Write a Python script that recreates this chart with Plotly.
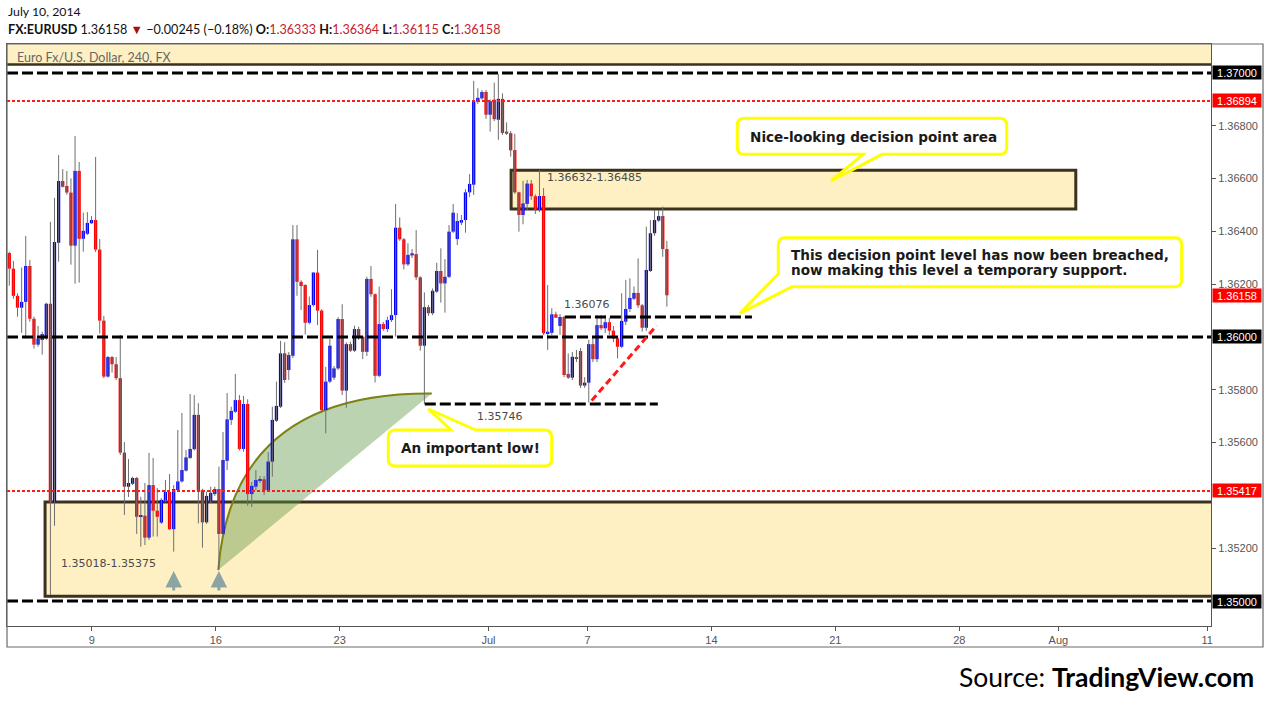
import numpy as np
import plotly.graph_objects as go

# ---------------- data (EURUSD 4H candles) ----------------
OPEN = [
1.36318,1.36259,1.36156,1.36111,1.36133,1.36269,1.36069,1.35971,1.35989,1.35995,
1.36126,1.35372,1.36357,1.36591,1.36572,1.36547,1.36346,1.36629,1.36372,1.36391,
1.36431,1.36443,1.36331,1.36062,1.35850,1.35924,1.35897,1.35844,1.35562,1.35433,
1.35444,1.35466,1.35319,1.35323,1.35240,1.35439,1.35342,1.35297,1.35380,1.35413,
1.35272,1.35420,1.35453,1.35494,1.35542,1.35575,1.35705,1.35420,1.35298,1.35379,
1.35405,1.35424,1.35254,1.35531,1.35686,1.35717,1.35761,1.35576,1.35746,1.35405,
1.35433,1.35456,1.35461,1.35420,1.35528,1.35683,1.35736,1.35938,1.35875,1.35929,
1.36370,1.36209,1.36197,1.36054,1.36121,1.36244,1.36100,1.35723,1.35831,1.35846,
1.35881,1.36068,1.35797,1.35973,1.35948,1.36030,1.36001,1.35944,1.36220,1.36162,
1.35853,1.36049,1.36030,1.36064,1.36083,1.36414,1.36370,1.36275,1.36309,1.36314,
1.36226,1.35967,1.36113,1.36090,1.36172,1.36250,1.36203,1.36228,1.36399,1.36371,
1.36433,1.36443,1.36548,1.36577,1.36891,1.36904,1.36928,1.36842,1.36899,1.36823,
1.36902,1.36778,1.36772,1.36708,1.36548,1.36462,1.36504,1.36581,1.36533,1.36481,
1.36534,1.36014,1.36016,1.36086,1.36042,1.36076,1.35860,1.35846,1.35923,1.35947,
1.35816,1.35827,1.35973,1.35916,1.36045,1.36033,1.36056,1.36024,1.35995,1.35963,
1.36058,1.36106,1.36145,1.36167,1.36120,1.36035,1.36250,1.36393,1.36441,1.36458,
1.36333]
HIGH = [
1.36323,1.36288,1.36166,1.36263,1.36383,1.36292,1.36077,1.36042,1.36020,1.36130,
1.36436,1.36527,1.36689,1.36636,1.36629,1.36601,1.36761,1.36663,1.36471,1.36473,
1.36458,1.36682,1.36371,1.36080,1.35928,1.35928,1.35924,1.36008,1.35602,1.35538,
1.35471,1.35470,1.35395,1.35447,1.35561,1.35542,1.35428,1.35390,1.35458,1.35481,
1.35439,1.35648,1.35712,1.35572,1.35784,1.35780,1.35749,1.35425,1.35414,1.35433,
1.35433,1.35509,1.35640,1.35788,1.35736,1.35860,1.35780,1.35777,1.35764,1.35451,
1.35496,1.35473,1.35473,1.35564,1.35736,1.35831,1.35985,1.35980,1.35943,1.36424,
1.36424,1.36215,1.36200,1.36153,1.36246,1.36330,1.36105,1.35887,1.35992,1.35890,
1.36075,1.36124,1.35980,1.35982,1.36043,1.36039,1.36004,1.36228,1.36269,1.36165,
1.36191,1.36057,1.36077,1.36181,1.36504,1.36453,1.36375,1.36355,1.36333,1.36405,
1.36230,1.36169,1.36121,1.36184,1.36281,1.36336,1.36295,1.36424,1.36504,1.36469,
1.36462,1.36560,1.36617,1.36970,1.36942,1.36935,1.36936,1.36900,1.36963,1.36996,
1.36923,1.36813,1.36780,1.36769,1.36550,1.36592,1.36595,1.36595,1.36540,1.36633,
1.36564,1.36197,1.36109,1.36096,1.36087,1.36080,1.35938,1.35943,1.35951,1.35958,
1.35848,1.35989,1.36004,1.36083,1.36083,1.36083,1.36072,1.36042,1.36004,1.36166,
1.36216,1.36222,1.36191,1.36298,1.36125,1.36418,1.36443,1.36481,1.36481,1.36494,
1.36364]
LOW = [
1.36194,1.36145,1.36077,1.36016,1.35994,1.36058,1.35956,1.35963,1.35933,1.35989,
1.35023,1.35285,1.36285,1.36566,1.36539,1.36274,1.36202,1.36206,1.36323,1.36386,
1.36428,1.36322,1.36013,1.35844,1.35846,1.35865,1.35837,1.35553,1.35326,1.35394,
1.35439,1.35254,1.35206,1.35212,1.35231,1.35244,1.35244,1.35292,1.35375,1.35269,
1.35187,1.35412,1.35448,1.35490,1.35538,1.35570,1.35294,1.35202,1.35292,1.35371,
1.35398,1.35121,1.35250,1.35496,1.35667,1.35712,1.35570,1.35565,1.35361,1.35356,
1.35420,1.35447,1.35402,1.35413,1.35471,1.35678,1.35731,1.35826,1.35837,1.35920,
1.36156,1.36102,1.36010,1.36048,1.36115,1.36045,1.35712,1.35635,1.35826,1.35837,
1.35875,1.35780,1.35732,1.35943,1.35943,1.35989,1.35916,1.35928,1.36152,1.35828,
1.35848,1.36023,1.36019,1.36057,1.36001,1.36364,1.36256,1.36269,1.36299,1.36216,
1.35948,1.35746,1.36080,1.36083,1.36167,1.36130,1.36092,1.36223,1.36394,1.36348,
1.36424,1.36395,1.36530,1.36538,1.36883,1.36898,1.36826,1.36778,1.36818,1.36747,
1.36765,1.36765,1.36683,1.36542,1.36399,1.36427,1.36481,1.36519,1.36466,1.36473,
1.36008,1.35951,1.36008,1.36072,1.36008,1.35848,1.35841,1.35837,1.35905,1.35807,
1.35807,1.35752,1.35905,1.35905,1.36027,1.36015,1.36008,1.35981,1.35919,1.35958,
1.36045,1.36095,1.36140,1.36110,1.36020,1.36023,1.36246,1.36383,1.36436,1.36304,
1.36115]
CLOSE = [
1.36259,1.36156,1.36111,1.36133,1.36269,1.36069,1.35971,1.35994,1.36011,1.36126,
1.35372,1.36360,1.36591,1.36569,1.36547,1.36346,1.36629,1.36372,1.36402,1.36432,
1.36443,1.36331,1.36062,1.35850,1.35924,1.35897,1.35844,1.35562,1.35433,1.35447,
1.35466,1.35319,1.35323,1.35240,1.35439,1.35342,1.35319,1.35383,1.35413,1.35272,
1.35424,1.35453,1.35496,1.35544,1.35576,1.35705,1.35420,1.35298,1.35398,1.35410,
1.35424,1.35254,1.35534,1.35688,1.35720,1.35761,1.35576,1.35746,1.35405,1.35436,
1.35458,1.35461,1.35420,1.35528,1.35686,1.35739,1.35938,1.35837,1.35932,1.36370,
1.36209,1.36193,1.36054,1.36121,1.36244,1.36100,1.35723,1.35831,1.35967,1.35881,
1.36068,1.35797,1.35973,1.35948,1.36030,1.35997,1.35944,1.36220,1.36162,1.35853,
1.36049,1.36030,1.36064,1.36083,1.36414,1.36370,1.36275,1.36311,1.36317,1.36226,
1.35967,1.36113,1.36090,1.36175,1.36250,1.36203,1.36228,1.36399,1.36471,1.36439,
1.36443,1.36548,1.36580,1.36894,1.36906,1.36928,1.36842,1.36893,1.36825,1.36902,
1.36773,1.36770,1.36707,1.36548,1.36462,1.36506,1.36581,1.36533,1.36481,1.36534,
1.36014,1.36020,1.36086,1.36073,1.36076,1.35856,1.35846,1.35925,1.35917,1.35816,
1.35827,1.35973,1.35916,1.36045,1.36033,1.36056,1.36024,1.35995,1.35963,1.36061,
1.36106,1.36148,1.36167,1.36120,1.36035,1.36254,1.36393,1.36443,1.36458,1.36333,
1.36158]

TICK_DATES = ["2014-06-09", "2014-06-16", "2014-06-23", "2014-07-01", "2014-07-07",
              "2014-07-14", "2014-07-21", "2014-07-28", "2014-08-01", "2014-08-11"]
TICK_LABELS = ["9", "16", "23", "Jul", "7", "14", "21", "28", "Aug", "11"]
PRICE_TICKS = [1.352, 1.356, 1.358, 1.362, 1.364, 1.366, 1.368]

LEVELS_BLACK = [1.37000, 1.36000, 1.35000]
LEVELS_RED = [1.36894, 1.35417]
LAST_PRICE = 1.36158
UPPER_ZONE = [1.36485, 1.36632]
LOWER_ZONE = [1.35018, 1.35375]
TOP_BAND_LOW = 1.37032
SUPPORT_LEVEL = 1.36076
IMPORTANT_LOW = 1.35746

# ---------------- layout calibration ----------------
W, H = 1270, 704
PL, PR, PT, PB = 7, 1211, 44, 626          # plot area in pixels
X_RANGE = [-0.56, 292.4]                   # bar-index range
Y_RANGE = [1.349053, 1.371098]
FIRST_TICK_BAR = 20.1                      # bar index of June 9 00:00
BARS_PER_DAY = 6.03

def fx(px):
    return (px - PL) / (PR - PL)

def fy(py):
    return (PB - py) / (PB - PT)

N = len(OPEN)
idx = list(range(N))
colors = ["#0000ff" if c >= o else "#ff0000" for o, c in zip(OPEN, CLOSE)]
MIN_BODY = 0.00004
body_h, body_b = [], []
for o, c in zip(OPEN, CLOSE):
    h = abs(c - o)
    lo = min(o, c)
    if h < MIN_BODY:
        lo = (o + c) / 2 - MIN_BODY / 2
        h = MIN_BODY
    body_h.append(h)
    body_b.append(lo)

wx, wy = [], []
for i, hi, lo in zip(idx, HIGH, LOW):
    wx += [i, i, None]
    wy += [lo, hi, None]

tick_days = [int(np.busday_count("2014-06-09", d)) for d in TICK_DATES]
tick_vals = [FIRST_TICK_BAR + d * BARS_PER_DAY for d in tick_days]

fig = go.Figure()
fig.add_trace(go.Scatter(x=wx, y=wy, mode="lines", line=dict(color="#6e6e6e", width=1),
                         hoverinfo="skip", showlegend=False))
fig.add_trace(go.Bar(x=idx, y=body_h, base=body_b, marker=dict(color=colors, line=dict(width=0)),
                     width=0.8, opacity=1, showlegend=False))

shapes = []
ZONE_FILL = "#FFF0C4"
ZONE_LINE = "#3a321c"
# top band
shapes.append(dict(type="rect", xref="x", yref="y", x0=-5, x1=400, y0=TOP_BAND_LOW, y1=1.3730,
                   fillcolor=ZONE_FILL, line=dict(color=ZONE_LINE, width=2.5), layer="below"))
# upper decision zone
shapes.append(dict(type="rect", xref="x", yref="y", x0=122.1, x1=259.5, y0=UPPER_ZONE[0], y1=UPPER_ZONE[1],
                   fillcolor=ZONE_FILL, line=dict(color=ZONE_LINE, width=3), layer="below"))
# lower demand zone
shapes.append(dict(type="rect", xref="x", yref="y", x0=8.7, x1=400, y0=LOWER_ZONE[0], y1=LOWER_ZONE[1],
                   fillcolor=ZONE_FILL, line=dict(color=ZONE_LINE, width=3), layer="below"))
# green arc
ARC = dict(x0=50.85, y0=1.35117, cx=54.2, cy=1.35792, x1=102.8, y1=1.35786)
shapes.append(dict(type="path", xref="x", yref="y",
                   path=f"M{ARC['x0']},{ARC['y0']} Q{ARC['cx']},{ARC['cy']} {ARC['x1']},{ARC['y1']} L{ARC['x0']},{ARC['y0']} Z",
                   fillcolor="rgba(95,150,70,0.42)", line=dict(width=0), layer="below"))
shapes.append(dict(type="path", xref="x", yref="y",
                   path=f"M{ARC['x0']},{ARC['y0']} Q{ARC['cx']},{ARC['cy']} {ARC['x1']},{ARC['y1']}",
                   line=dict(color="#7c8214", width=2), layer="below"))

# horizontal levels
for lv in LEVELS_BLACK:
    shapes.append(dict(type="line", xref="paper", yref="y", x0=0, x1=1, y0=lv, y1=lv,
                       line=dict(color="black", width=3, dash="11px,4px"), layer="above"))
for lv in LEVELS_RED:
    shapes.append(dict(type="line", xref="paper", yref="y", x0=0, x1=1, y0=lv, y1=lv,
                       line=dict(color="#ff1a1a", width=2, dash="3px,2px"), layer="above"))
shapes.append(dict(type="line", xref="x", yref="y", x0=135.2, x1=180.7, y0=SUPPORT_LEVEL, y1=SUPPORT_LEVEL,
                   line=dict(color="black", width=3, dash="11px,4px"), layer="above"))
shapes.append(dict(type="line", xref="x", yref="y", x0=101.1, x1=157.8, y0=IMPORTANT_LOW, y1=IMPORTANT_LOW,
                   line=dict(color="black", width=3, dash="11px,4px"), layer="above"))
# rising trend line
shapes.append(dict(type="line", xref="x", yref="y", x0=141.7, y0=1.35759, x1=157.5, y1=1.36043,
                   line=dict(color="#ff1a1a", width=3, dash="7px,4px"), layer="above"))

# callouts
def P(px, py):
    return f"{fx(px):.5f},{fy(py):.5f}"

def callout_path(x0, y0, x1, y1, r=7, top=None, bottom=None, lowerleft=None):
    s = [f"M{P(x0 + r, y0)}"]
    if top:
        bx0, bx1, tx, ty = top
        s += [f"L{P(bx0, y0)}", f"L{P(tx, ty)}", f"L{P(bx1, y0)}"]
    s += [f"L{P(x1 - r, y0)}", f"Q{P(x1, y0)} {P(x1, y0 + r)}",
          f"L{P(x1, y1 - r)}", f"Q{P(x1, y1)} {P(x1 - r, y1)}"]
    if bottom:
        br, bl, tx, ty = bottom
        s += [f"L{P(br, y1)}", f"L{P(tx, ty)}", f"L{P(bl, y1)}"]
    if lowerleft:
        bx, ly, tx, ty = lowerleft
        s += [f"L{P(bx, y1)}", f"L{P(tx, ty)}", f"L{P(x0, ly)}"]
    else:
        s += [f"L{P(x0 + r, y1)}", f"Q{P(x0, y1)} {P(x0, y1 - r)}"]
    s += [f"L{P(x0, y0 + r)}", f"Q{P(x0, y0)} {P(x0 + r, y0)}", "Z"]
    return " ".join(s)

CALL_STYLE = dict(type="path", xref="paper", yref="paper", fillcolor="white",
                  line=dict(color="#ffff00", width=3), layer="above")
shapes.append(dict(path=callout_path(737.3, 118.3, 1006.7, 154.3, bottom=(882, 863, 831, 181)), **CALL_STYLE))
shapes.append(dict(path=callout_path(778.3, 237.7, 1181.7, 286.7, lowerleft=(792, 274, 740, 313.3)), **CALL_STYLE))
shapes.append(dict(path=callout_path(388.3, 430, 551.7, 466, top=(451, 476, 428.3, 409)), **CALL_STYLE))

# outer frame
shapes.append(dict(type="rect", xref="paper", yref="paper", x0=fx(7), x1=fx(1263), y0=fy(647), y1=fy(44),
                   line=dict(color="#6a6a6a", width=1.2), fillcolor="rgba(0,0,0,0)", layer="above"))

ann = []
CALL_FONT = dict(family="DejaVu Sans", size=13.6, color="#1a1a1a")
def bold(t):
    return f"<b>{t}</b>"
ann.append(dict(xref="paper", yref="paper", x=fx(873.5), y=fy(136.5), text=bold("Nice-looking decision point area"),
                showarrow=False, font=CALL_FONT, xanchor="center", yanchor="middle"))
ann.append(dict(xref="paper", yref="paper", x=fx(789), y=fy(255), text=bold("This decision point level has now been breached,"),
                showarrow=False, font=CALL_FONT, xanchor="left", yanchor="middle"))
ann.append(dict(xref="paper", yref="paper", x=fx(789), y=fy(269.5), text=bold("now making this level a temporary support."),
                showarrow=False, font=CALL_FONT, xanchor="left", yanchor="middle"))
ann.append(dict(xref="paper", yref="paper", x=fx(470), y=fy(448), text=bold("An important low!"),
                showarrow=False, font=CALL_FONT, xanchor="center", yanchor="middle"))

LBL_FONT = dict(family="DejaVu Sans", size=11, color="#4a4a4a")
for txt, px, py in [(f"{UPPER_ZONE[1]:.5f}-{UPPER_ZONE[0]:.5f}", 545, 178),
                    (f"{LOWER_ZONE[0]:.5f}-{LOWER_ZONE[1]:.5f}", 59, 563),
                    (f"{SUPPORT_LEVEL:.5f}", 562, 304),
                    (f"{IMPORTANT_LOW:.5f}", 475, 416.5)]:
    ann.append(dict(xref="paper", yref="paper", x=fx(px), y=fy(py), text=txt, showarrow=False,
                    font=LBL_FONT, xanchor="left", yanchor="middle"))

ann.append(dict(xref="paper", yref="paper", x=fx(15), y=fy(57), text="Euro Fx/U.S. Dollar, 240, FX",
                showarrow=False, font=dict(family="Lato", size=12.5, color="#666666"),
                xanchor="left", yanchor="middle"))

# arrows under the two lows
ARROW_BARS = [40, 51]
ARROW_PRICE = 1.35114
for b in ARROW_BARS:
    ann.append(dict(xref="x", yref="y", x=b, y=ARROW_PRICE, ax=0, ay=21, text="", showarrow=True,
                    arrowhead=2, arrowsize=1.1, arrowwidth=3, arrowcolor="#8ba5a4"))

# right-axis price boxes
for lv, bg in [(1.37000, "black"), (1.36000, "black"), (1.35000, "black"),
               (1.36894, "#ff0000"), (1.35417, "#ff0000"), (LAST_PRICE, "#ff0000")]:
    ann.append(dict(xref="paper", yref="y", x=1.0, y=lv, xanchor="left", yanchor="middle", xshift=1,
                    text=f"{lv:.5f}", showarrow=False, bgcolor=bg, width=46, height=11, borderpad=1,
                    font=dict(family="Liberation Sans", size=11, color="white")))

# header
RED = "#c8202a"
def red(t):
    return f"<span style='color:{RED}'>{t}</span>"
header = (f"<b>FX:EURUSD</b> 1.36158 <span style='color:#a31010'>▼</span> −0.00245 (−0.18%) "
          f"<b>O:</b>{red('1.36333')} <b>H:</b>{red('1.36364')} <b>L:</b>{red('1.36115')} <b>C:</b>{red('1.36158')}")
ann.append(dict(xref="paper", yref="paper", x=fx(6), y=fy(12), text="July 10, 2014", showarrow=False,
                font=dict(family="Lato", size=12.3, color="#111111"), xanchor="left", yanchor="middle"))
ann.append(dict(xref="paper", yref="paper", x=fx(6), y=fy(29.5), text=header, showarrow=False,
                font=dict(family="Lato", size=12.6, color="#111111"), xanchor="left", yanchor="middle"))
ann.append(dict(xref="paper", yref="paper", x=fx(1256), y=fy(677), text="Source: <b>TradingView.com</b>",
                showarrow=False, font=dict(family="Lato", size=26.5, color="black"),
                xanchor="right", yanchor="middle"))

AX_FONT = dict(family="Liberation Sans", size=11, color="#555555")
fig.update_layout(
    width=W, height=H, margin=dict(l=PL, r=W - PR, t=PT, b=H - PB),
    paper_bgcolor="white", plot_bgcolor="white", showlegend=False, barmode="overlay",
    shapes=shapes, annotations=ann,
    xaxis=dict(range=X_RANGE, tickvals=tick_vals, ticktext=TICK_LABELS, showgrid=False, zeroline=False,
               showline=True, linecolor="#555555", linewidth=1, mirror=True, ticks="outside", ticklen=4,
               tickcolor="#555555", tickfont=AX_FONT, fixedrange=True),
    yaxis=dict(range=Y_RANGE, side="right", tickvals=PRICE_TICKS, tickformat=".5f", showgrid=False,
               zeroline=False, showline=True, linecolor="#555555", linewidth=1, mirror=True,
               ticks="outside", ticklen=4, tickcolor="#555555", tickfont=AX_FONT, fixedrange=True),
)

fig.write_html("out.html", config={"displayModeBar": False},
               post_script="document.body.style.margin='0px';document.body.style.overflow='hidden';")
